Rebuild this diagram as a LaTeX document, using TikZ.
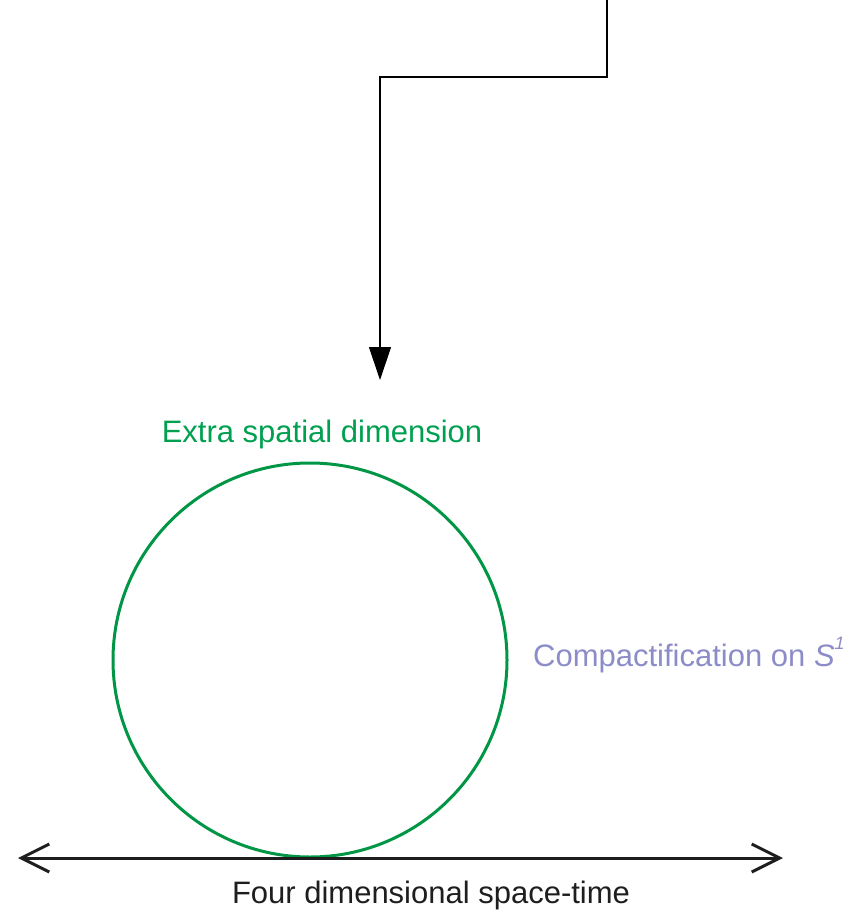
\documentclass[tikz,border=0pt]{standalone}
\usepackage{fontspec}
\setmainfont{Liberation Sans}
\usetikzlibrary{arrows.meta}
\definecolor{ringgreen}{RGB}{0,150,70}
\definecolor{labelgreen}{RGB}{0,160,80}
\definecolor{softpurple}{RGB}{140,140,200}
\definecolor{axisgray}{RGB}{30,30,30}
\tikzset{
  label/.style={font=\fontsize{31}{36}\selectfont, inner sep=0pt},
  feed/.style={line width=1.2pt, -{Triangle[length=33pt,width=22pt]}},
  axis/.style={line width=3pt, draw=axisgray, {Straight Barb[length=28pt,width=28pt,line width=3pt]}-{Straight Barb[length=28pt,width=28pt,line width=3pt]}},
  ring/.style={circle, draw=ringgreen, line width=3pt, minimum size=394pt, inner sep=0pt}
}
\begin{document}
\begin{tikzpicture}[x=1pt,y=-1pt]
  \useasboundingbox (0,0) rectangle (866,915);
  % incoming feed line
  \coordinate (src) at (607,0);
  \coordinate (bendA) at (607,77);
  \coordinate (bendB) at (380,77);
  \coordinate (tip) at (380,380);
  \draw[feed] (src) -- (bendA) -- (bendB) -- (tip);
  % the compact dimension
  \node[ring] (loop) at (310,660) {};
  \node[label, text=labelgreen] (extra) at (322,434) {Extra spatial dimension};
  \node[label, text=softpurple, anchor=west] (compact) at (533,655) {Compactification on \textit{S}\raisebox{0.55em}{\fontsize{18}{20}\selectfont\textit{1}}};
  % ordinary space-time
  \coordinate (left) at (18,858);
  \coordinate (right) at (783,858);
  \draw[axis] (left) -- (right);
  \node[label, text=axisgray] (st) at (431,895) {Four dimensional space-time};
\end{tikzpicture}
\end{document}
